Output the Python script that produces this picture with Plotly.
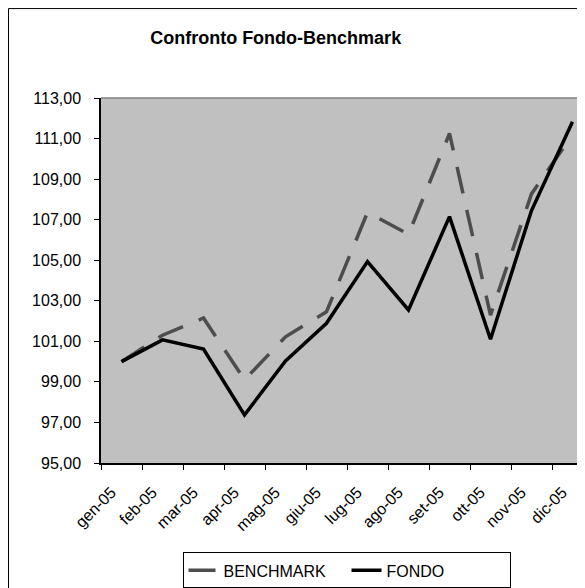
import plotly.graph_objects as go

mesi = ['gen-05', 'feb-05', 'mar-05', 'apr-05', 'mag-05', 'giu-05',
        'lug-05', 'ago-05', 'set-05', 'ott-05', 'nov-05', 'dic-05']
benchmark = [100.00, 101.30, 102.15, 99.10, 101.22, 102.46,
             107.36, 106.28, 111.25, 102.29, 108.27, 111.19]
fondo = [100.00, 101.07, 100.62, 97.37, 100.03, 101.89,
         104.93, 102.55, 107.15, 101.10, 107.45, 111.83]

FONT = 'Arial, Liberation Sans, sans-serif'

fig = go.Figure()
fig.add_trace(go.Scatter(x=mesi, y=benchmark, mode='lines', name='BENCHMARK',
                         line=dict(color='#4d4d4d', width=3.5, dash='27px,17px')))
fig.add_trace(go.Scatter(x=mesi, y=fondo, mode='lines', name='FONDO',
                         line=dict(color='#000000', width=3.5)))

# the page has an 8px body margin, so the figure sits 8px in from the top-left
fig.update_layout(
    width=585, height=588,
    margin=dict(l=93, r=0, t=90, b=133, autoexpand=False),
    paper_bgcolor='white',
    plot_bgcolor='#c0c0c0',
    separators=',.',
    font=dict(family=FONT, size=16, color='black'),
    title=dict(text='<b>Confronto Fondo-Benchmark</b>', x=0.355, xref='paper',
               xanchor='center', y=0.949, yanchor='middle', font=dict(size=18)),
    showlegend=True,
    legend=dict(orientation='h', x=0.499, xanchor='center', y=-0.245, yanchor='top',
                bordercolor='black', borderwidth=1, bgcolor='white',
                entrywidth=118, font=dict(size=16)),
)

fig.update_xaxes(type='category', range=[-0.5, 11.5], tickson='boundaries',
                 ticks='outside', ticklen=5, tickcolor='black', showgrid=False,
                 showline=True, linecolor='black', linewidth=1.5, automargin=False,
                 tickangle=-45, tickfont=dict(size=16),
                 ticklabelshift=-10, ticklabelstandoff=12)
fig.update_yaxes(range=[95, 113], tick0=95, dtick=2, tickformat='.2f',
                 ticks='outside', ticklen=5, tickcolor='black', showgrid=False,
                 showline=True, linecolor='black', linewidth=1.5, automargin=False,
                 zeroline=False, tickfont=dict(size=16), ticklabelstandoff=10)

# gray top border of plot area
fig.add_shape(type='line', xref='paper', yref='paper', x0=0, x1=1, y0=1, y1=1,
              line=dict(color='#808080', width=1.5))
# outer chart frame (right and bottom fall outside the picture)
fig.add_shape(type='rect', xref='paper', yref='paper', x0=-0.188, x1=1.2,
              y0=-0.5, y1=1.245, line=dict(color='black', width=1), layer='below')

fig.write_html("out.html")
